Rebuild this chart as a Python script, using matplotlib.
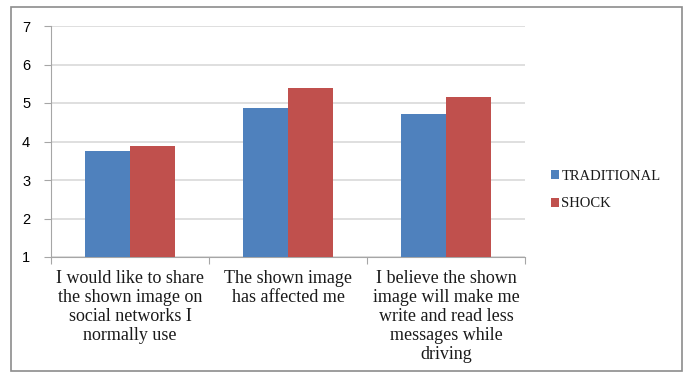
import matplotlib
matplotlib.use("Agg")
import matplotlib.pyplot as plt
from matplotlib.patches import Rectangle
import numpy as np

categories = [
    "I would like to share\nthe shown image on\nsocial networks I\nnormally use",
    "The shown image\nhas affected me",
    "I believe the shown\nimage will make me\nwrite and read less\nmessages while\ndriving",
]
traditional = [3.76, 4.86, 4.71]
shock = [3.89, 5.38, 5.15]
series_names = ["TRADITIONAL", "SHOCK"]
yticks = [1, 2, 3, 4, 5, 6, 7]

blue = "#4f81bd"
red = "#c0504d"
grid_c = "#d9d9d9"
axis_c = "#a6a6a6"

W, H = 686, 374
fig = plt.figure(figsize=(W / 100, H / 100), dpi=100)
fig.patch.set_facecolor("white")

# outer chart frame
fig.add_artist(Rectangle((11 / W, 1 - 371 / H), (682 - 11) / W, (371 - 7) / H,
                         transform=fig.transFigure, fill=False,
                         edgecolor="#8c8c8c", linewidth=1.2))

ax = fig.add_axes([51 / W, 1 - 257 / H, (525 - 51) / W, (257 - 26) / H])
x = np.arange(len(categories))
bw = 0.285
ax.bar(x - bw / 2, traditional, bw, bottom=0, color=blue, label=series_names[0], zorder=3)
ax.bar(x + bw / 2, shock, bw, bottom=0, color=red, label=series_names[1], zorder=3)

ax.set_ylim(1, 7)
ax.set_xlim(-0.5, len(categories) - 0.5)
ax.set_yticks(yticks)
ax.yaxis.grid(True, color=grid_c, linewidth=1.2, zorder=0)
ax.set_axisbelow(True)

for s in ["top", "right"]:
    ax.spines[s].set_visible(False)
ax.spines["left"].set_color(axis_c)
ax.spines["bottom"].set_color(axis_c)

ax.tick_params(axis="y", length=5, color=axis_c, labelsize=10.5, pad=10)
for lbl in ax.get_yticklabels():
    lbl.set_fontfamily("Liberation Sans")

# category boundary ticks on the x axis
ax.set_xticks(np.arange(-0.5, len(categories), 1.0))
ax.set_xticklabels([])
ax.tick_params(axis="x", length=5, color=axis_c)
for i, c in enumerate(categories):
    ax.text(i, -0.055, c, transform=ax.get_xaxis_transform(), ha="center", va="top",
            fontfamily="Liberation Serif", fontsize=13, linespacing=1.16,
            color="#1a1a1a")

leg = fig.legend(loc="center left", bbox_to_anchor=(538 / W, 1 - 190 / H),
                 frameon=False, prop={"family": "Liberation Serif", "size": 10.5},
                 handlelength=0.55, handleheight=0.55, handletextpad=0.15,
                 labelspacing=1.0)
for t in leg.get_texts():
    t.set_color("#1a1a1a")

fig.savefig("out.png", dpi=100, facecolor="white")
